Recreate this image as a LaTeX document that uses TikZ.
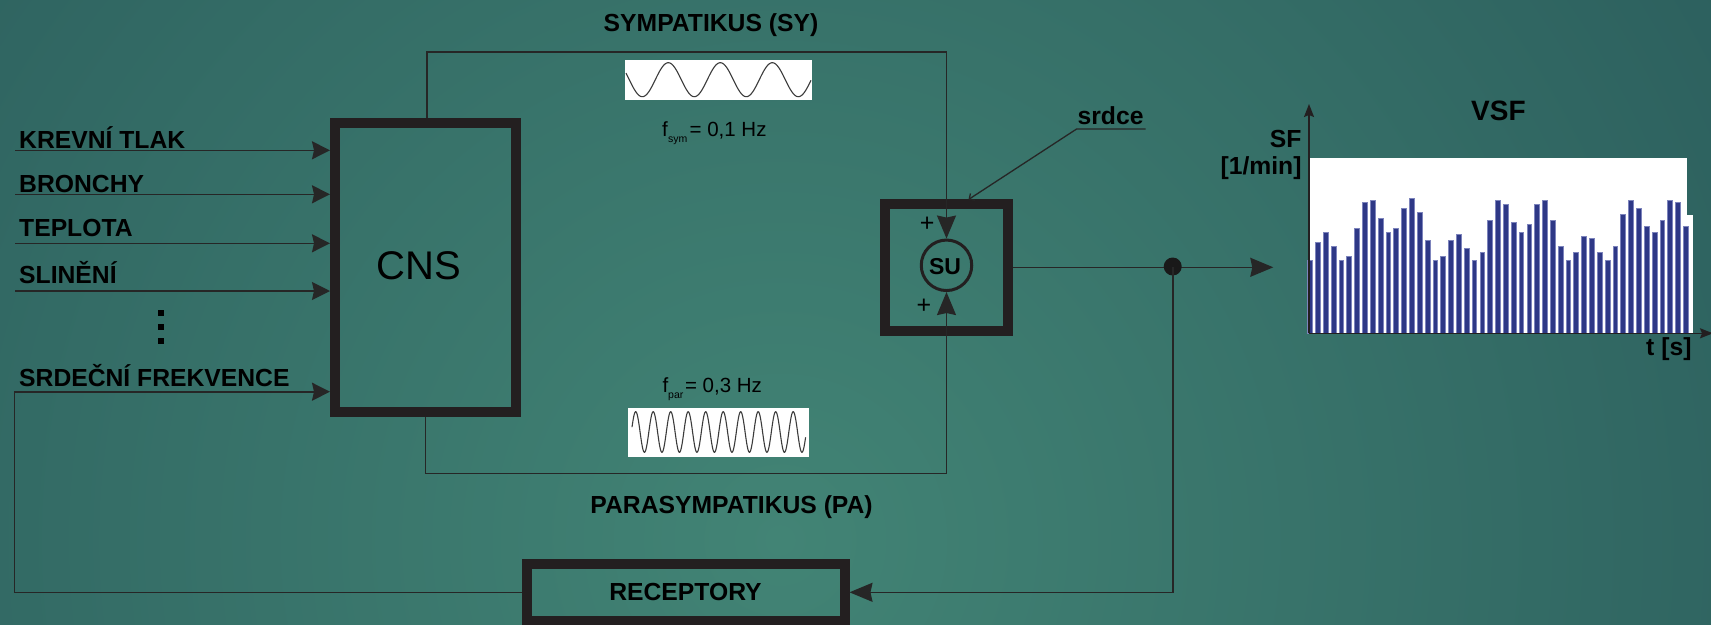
\documentclass[tikz,border=0pt]{standalone}
\usepackage{fontspec}
\setmainfont{Liberation Sans}
\usetikzlibrary{arrows.meta}
\definecolor{bgin}{RGB}{66,132,117}
\definecolor{bgout}{RGB}{22,58,70}
\definecolor{ink}{RGB}{35,31,32}
\definecolor{wire}{RGB}{38,38,38}
\definecolor{barblue}{RGB}{46,56,134}
\definecolor{baredge}{RGB}{125,132,188}
\definecolor{wavecol}{RGB}{60,60,60}
\pgfdeclareradialshading{bgshade}{\pgfpoint{0bp}{0bp}}{color(0bp)=(bgin); color(50bp)=(bgout)}
\begin{document}
\begin{tikzpicture}[x=1pt,y=-1pt,
  heavybox/.style={draw=ink, line width=10pt, inner sep=0pt},
  wireline/.style={draw=wire, line width=1.6pt},
  inarr/.style={-{Stealth[length=18pt,width=18pt,inset=2pt]}},
  bigarr/.style={-{Stealth[length=23pt,width=19pt,inset=2pt]}},
  axarr/.style={-{Stealth[length=13pt,width=10pt,inset=2pt]}},
  tinyarr/.style={-{Straight Barb[length=4pt,width=8pt]}},
  lbl/.style={font=\fontsize{24.7pt}{28pt}\selectfont\bfseries, text=black, inner sep=0pt},
  freq/.style={font=\fontsize{20.5pt}{24pt}\selectfont, text=black, inner sep=0pt},
  subfreq/.style={font=\fontsize{10.5pt}{12pt}\selectfont, text=black, inner sep=0pt},
  plussign/.style={font=\fontsize{25pt}{28pt}\selectfont, text=black, inner sep=0pt},
  wavebox/.style={fill=white, draw=none},
  waveline/.style={draw=wavecol, line width=1.1pt}
]
\useasboundingbox (0,0) rectangle (1711,624);
\clip (0,0) rectangle (1711,624);
\shade[shading=bgshade] (780,540) circle (1120pt);

% ---------- main blocks ----------
\node[heavybox, minimum width=181pt, minimum height=289.5pt] (cns) at (425.5,267.25) {};
\node[font=\fontsize{40pt}{44pt}\selectfont, text=black, inner sep=0pt, anchor=base] (cnstext) at (419,279.3) {CNS};

\node[heavybox, minimum width=123pt, minimum height=127pt] (subox) at (946.5,267.3) {};
\node[draw=ink, line width=3pt, circle, minimum size=50.5pt, inner sep=0pt] (sucirc) at (946.5,265.3) {};
\node[lbl, font=\fontsize{23pt}{26pt}\selectfont\bfseries, anchor=base] (sutext) at (945,274.3) {SU};
\node[plussign] (plustop) at (927.2,224.2) {+};
\node[plussign] (plusbot) at (923.8,306.4) {+};

\node[heavybox, minimum width=317.5pt, minimum height=57pt] (rec) at (685.75,592.3) {};
\node[lbl, anchor=base] (rectext) at (685.5,600.7) {RECEPTORY};

% ---------- inputs ----------
\coordinate (in1) at (15.3,150.3);
\coordinate (in2) at (15.3,194.3);
\coordinate (in3) at (15.3,243.3);
\coordinate (in4) at (15.3,291);
\draw[wireline, inarr] (in1) -- (in1 -| cns.west);
\draw[wireline, inarr] (in2) -- (in2 -| cns.west);
\draw[wireline, inarr] (in3) -- (in3 -| cns.west);
\draw[wireline, inarr] (in4) -- (in4 -| cns.west);
\node[lbl, anchor=base west] (t1) at (19,148.3) {KREVNÍ TLAK};
\node[lbl, anchor=base west] (t2) at (19,192.3) {BRONCHY};
\node[lbl, anchor=base west] (t3) at (19,236) {TEPLOTA};
\node[lbl, anchor=base west] (t4) at (19,283.7) {SLINĚNÍ};
\node[lbl, anchor=base west] (t5) at (19,386.7) {SRDEČNÍ FREKVENCE};
\fill[black] (157.8,310.3) rectangle (163.8,315.8);
\fill[black] (157.8,324) rectangle (163.8,329.5);
\fill[black] (157.8,338) rectangle (163.8,343.5);

% ---------- feedback loop ----------
\coordinate (fbtop) at (14.5,391.7);
\draw[wireline, inarr] (rec.west) -| (fbtop) -- (fbtop -| cns.west);

% ---------- sympathetic / parasympathetic ----------
\coordinate (syl) at (427,51.7);
\coordinate (syr) at (946.5,51.7);
\draw[wireline, bigarr] (syl |- cns.north) -- (syl) -- (syr) -- (sucirc.north);
\coordinate (pal) at (425.6,473.5);
\coordinate (par) at (946.5,473.5);
\draw[wireline, bigarr] (pal |- cns.south) -- (pal) -- (par) -- (sucirc.south);

\node[lbl, anchor=base] (sytext) at (711,31.7) {SYMPATIKUS (SY)};
\node[lbl, anchor=base] (patext) at (731.6,513.3) {PARASYMPATIKUS (PA)};

% slow wave
\fill[wavebox] (625,60) rectangle (812,100);
\draw[waveline, domain=626:811, samples=220, smooth] plot (\x, {79.7 - 17*cos((\x-668.3)*6.92308)});
\node[freq, anchor=base west] (fsym) at (662,136) {f};
\node[subfreq, anchor=base west] (fsymsub) at (668,142.5) {sym};
\node[freq, anchor=base west] (fsymval) at (689.4,136) {= 0,1 Hz};

% fast wave
\fill[wavebox] (628,408) rectangle (809,456.7);
\draw[waveline, domain=632:805.6, samples=400, smooth] plot (\x, {432 - 20.3*cos((\x-635.7)*20.5714)});
\node[freq, anchor=base west] (fpar) at (662.3,392.7) {f};
\node[subfreq, anchor=base west] (fparsub) at (668,398) {par};
\node[freq, anchor=base west] (fparval) at (684.8,392.7) {= 0,3 Hz};

% ---------- heart label ----------
\node[lbl, anchor=base west] (srdce) at (1077.4,124) {srdce};
\coordinate (ul1) at (1076.6,129);
\coordinate (ul2) at (1145.5,129);
\coordinate (srdtip) at (968.5,199.5);
\draw[wireline, line width=1.3pt, tinyarr] (ul2) -- (ul1) -- (srdtip);

% ---------- output ----------
\coordinate (outtip) at (1273.3,267.3);
\draw[wireline, bigarr] (subox.east) -- (outtip);
\node[circle, fill=black!90, inner sep=0pt, minimum size=18pt] (dot) at (1172.7,266.5) {};
\draw[wireline, bigarr] (dot.center) |- (rec.east);

% ---------- VSF graph ----------
\fill[white] (1309,158) rectangle (1686.7,333.3);
\fill[white] (1686.7,215) rectangle (1692.7,333.3);
\foreach \i/\t in {0/260,1/242.3,2/232.3,3/246.3,4/260.3,5/256.3,6/228.3,7/202.3,8/200,9/218.3,
  10/232.3,11/228.3,12/208.3,13/198.3,14/212.3,15/240.3,16/260.3,17/256.3,18/240.3,19/234.3,
  20/248.3,21/260.3,22/252.3,23/220.3,24/200,25/204.3,26/222.3,27/232.3,28/224.3,29/204.3,
  30/200,31/220.3,32/246.3,33/260.3,34/252.3,35/236.3,36/238.3,37/252.3,38/260.3,39/246.3,
  40/214.3,41/200,42/208.3,43/226.3,44/232.3,45/220.3,46/200,47/202.3,48/226.3}
  \filldraw[fill=barblue, draw=baredge, line width=0.7pt] ({1310+7.83*\i-2.4},\t) rectangle ({1310+7.83*\i+2.4},333.3);
\coordinate (orig) at (1309,333.3);
\coordinate (ytip) at (1309,104);
\coordinate (xtip) at (1713,333.3);
\draw[draw=ink, line width=1.6pt, axarr] (orig) -- (ytip);
\draw[draw=ink, line width=1.6pt, axarr] (orig) -- (xtip);
\node[lbl, font=\fontsize{28pt}{32pt}\selectfont\bfseries, anchor=base] (vsf) at (1498.4,120) {VSF};
\node[lbl, anchor=base east] (sf) at (1301.7,147.3) {SF};
\node[lbl, anchor=base east] (unit) at (1301.7,174.5) {[1/min]};
\node[lbl, anchor=base east] (ts) at (1691.7,355) {t [s]};
\end{tikzpicture}
\end{document}
